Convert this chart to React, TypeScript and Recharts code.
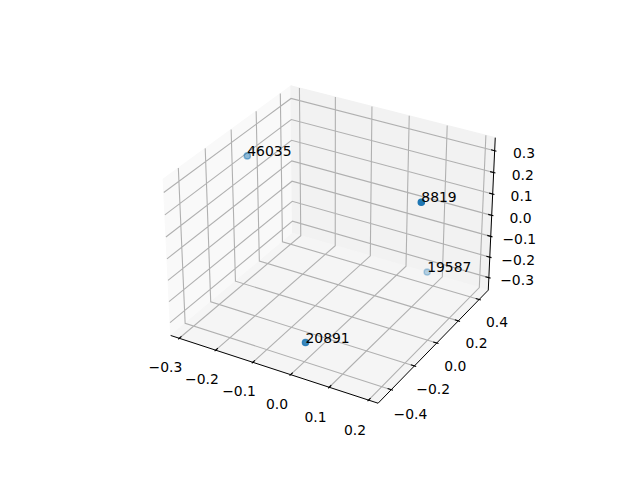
import React from 'react';
import { ScatterChart, Scatter, XAxis, YAxis } from 'recharts';

// the four labelled points (x, y, z)
const pointLabels = ['46035', '8819', '19587', '20891'];
const pointX = [-0.313, 0.213, 0.064, 0.033];
const pointY = [0.09, -0.136, 0.47, -0.49];
const pointZ = [0.204, 0.345, -0.347, -0.203];

// axis ticks
const xTicks = [-0.3, -0.2, -0.1, 0.0, 0.1, 0.2];
const xTickLabels = ['−0.3', '−0.2', '−0.1', '0.0', '0.1', '0.2'];
const yTicks = [-0.4, -0.2, 0.0, 0.2, 0.4];
const yTickLabels = ['−0.4', '−0.2', '0.0', '0.2', '0.4'];
const zTicks = [-0.3, -0.2, -0.1, 0.0, 0.1, 0.2, 0.3];
const zTickLabels = ['−0.3', '−0.2', '−0.1', '0.0', '0.1', '0.2', '0.3'];

type V3 = [number, number, number];

// limits = data range padded by 1/48 on each side
const lim = (v: number[]) => {
  const lo = Math.min(...v);
  const hi = Math.max(...v);
  const d = (hi - lo) / 48;
  return [lo - d, hi + d];
};
const XL = lim(pointX);
const YL = lim(pointY);
const ZL = lim(pointZ);

// default 3d camera: elev 30, azim -60, perspective, box 4:4:3
const RAD = Math.PI / 180;
const ELEV = 30 * RAD;
const AZIM = -60 * RAD;
const DIST = 10;
const boxNorm = Math.hypot(4, 4, 3);
const BOX = [4, 4, 3].map((a) => (a * 1.8294640721620434 * 25) / 24 / boxNorm);
const cross = (a: number[], b: number[]) => [
  a[1] * b[2] - a[2] * b[1],
  a[2] * b[0] - a[0] * b[2],
  a[0] * b[1] - a[1] * b[0],
];
const dot = (a: number[], b: number[]) => a[0] * b[0] + a[1] * b[1] + a[2] * b[2];
const W = [Math.cos(ELEV) * Math.cos(AZIM), Math.cos(ELEV) * Math.sin(AZIM), Math.sin(ELEV)];
const uRaw = cross([0, 0, 1], W);
const uLen = Math.hypot(uRaw[0], uRaw[1], uRaw[2]);
const U = uRaw.map((v) => v / uLen);
const V = cross(W, U);

const project = ([x, y, z]: V3) => {
  const d = [
    ((x - XL[0]) / (XL[1] - XL[0]) - 0.5) * BOX[0],
    ((y - YL[0]) / (YL[1] - YL[0]) - 0.5) * BOX[1],
    ((z - ZL[0]) / (ZL[1] - ZL[0]) - 0.5) * BOX[2],
  ];
  const den = DIST - dot(W, d);
  return { sx: dot(U, d) / den, sy: dot(V, d) / den, depth: -DIST / den };
};

// screen window of the projected plane
const SCALE = 1996;
const CX = 332.4;
const CY = 236.9;
const xDomain = [-CX / SCALE, (640 - CX) / SCALE];
const yDomain = [(CY - 480) / SCALE, CY / SCALE];

const [x0, x1] = XL;
const [y0, y1] = YL;
const [z0, z1] = ZL;
const dX = (x1 - x0) / 12;
const dY = (y1 - y0) / 12;
const dZ = (z1 - z0) / 12;

const panes: { color: string; pts: V3[] }[] = [
  { color: '#f9f9f9', pts: [[x0, y0, z0], [x0, y1, z0], [x0, y1, z1], [x0, y0, z1]] },
  { color: '#f2f2f2', pts: [[x0, y1, z0], [x1, y1, z0], [x1, y1, z1], [x0, y1, z1]] },
  { color: '#f5f5f5', pts: [[x0, y0, z0], [x1, y0, z0], [x1, y1, z0], [x0, y1, z0]] },
];

const gridLines: V3[][] = [
  ...xTicks.map((t): V3[] => [[t, y0, z0], [t, y1, z0], [t, y1, z1]]),
  ...yTicks.map((t): V3[] => [[x0, t, z1], [x0, t, z0], [x1, t, z0]]),
  ...zTicks.map((t): V3[] => [[x1, y1, t], [x0, y1, t], [x0, y0, t]]),
];

const axisLines: V3[][] = [
  [[x0, y0, z0], [x1, y0, z0]],
  [[x1, y0, z0], [x1, y1, z0]],
  [[x1, y1, z0], [x1, y1, z1]],
];

const tickLines: V3[][] = [
  ...xTicks.map((t): V3[] => [[t, y0 - 0.1 * dY, z0], [t, y0 + 0.2 * dY, z0]]),
  ...yTicks.map((t): V3[] => [[x1 + 0.1 * dX, t, z0], [x1 - 0.2 * dX, t, z0]]),
  ...zTicks.map((t): V3[] => [[x1 + 0.1 * dX, y1, t], [x1 - 0.2 * dX, y1, t]]),
];

const tickLabelData = [
  ...xTicks.map((t, i) => ({ ...project([t, y0 - 0.11 * (y1 - y0), z0 - 0.115 * (z1 - z0)]), label: xTickLabels[i] })),
  ...yTicks.map((t, i) => ({ ...project([x1 + 0.09 * (x1 - x0), t, z0 - 0.122 * (z1 - z0)]), label: yTickLabels[i] })),
  ...zTicks.map((t, i) => ({ ...project([x1 + 0.12 * (x1 - x0), y1 + 0.034 * (y1 - y0), t]), label: zTickLabels[i] })),
];

const rawPoints = pointLabels.map((label, i) => ({ ...project([pointX[i], pointY[i], pointZ[i]]), label }));
const dMin = Math.min(...rawPoints.map((p) => p.depth));
const dMax = Math.max(...rawPoints.map((p) => p.depth));
// depth shading: near points opaque, far ones faded
const pointData = rawPoints
  .map((p) => ({ ...p, alpha: 1 - (0.7 * (p.depth - dMin)) / (dMax - dMin) }))
  .sort((a, b) => b.depth - a.depth);

const flatten = (lines: V3[][]) => lines.flatMap((l) => l.map((p) => project(p)));

const pathOf = (n: number, close: boolean, style: React.SVGProps<SVGPathElement>) => (props: any) => {
  const pts: { x: number; y: number }[] = props.points || [];
  let d = '';
  for (let i = 0; i < pts.length; i += n) {
    d += 'M' + pts.slice(i, i + n).map((p) => `${p.x},${p.y}`).join('L') + (close ? 'Z' : '');
  }
  return <path d={d} {...style} />;
};

const noShape = () => <g />;
const FONT = 'DejaVu Sans';

export default function App() {
  return (
    <div style={{ position: 'absolute', left: 0, top: 0, background: '#fff' }}>
      <ScatterChart width={640} height={480} margin={{ top: 0, right: 0, bottom: 0, left: 0 }}>
        <XAxis type="number" dataKey="sx" domain={xDomain} allowDataOverflow hide />
        <YAxis type="number" dataKey="sy" domain={yDomain} allowDataOverflow hide />
        {panes.map((pane, i) => (
          <Scatter
            key={`pane-${i}`}
            data={pane.pts.map((p) => project(p))}
            line={pathOf(4, true, { fill: pane.color, stroke: pane.color, strokeWidth: 1 })}
            lineType="joint"
            shape={noShape}
            isAnimationActive={false}
          />
        ))}
        <Scatter
          data={flatten(gridLines)}
          line={pathOf(3, false, { fill: 'none', stroke: '#b0b0b0', strokeWidth: 1.1 })}
          lineType="joint"
          shape={noShape}
          isAnimationActive={false}
        />
        <Scatter
          data={flatten(axisLines)}
          line={pathOf(2, false, { fill: 'none', stroke: '#000', strokeWidth: 1 })}
          lineType="joint"
          shape={noShape}
          isAnimationActive={false}
        />
        <Scatter
          data={flatten(tickLines)}
          line={pathOf(2, false, { fill: 'none', stroke: '#000', strokeWidth: 1.1 })}
          lineType="joint"
          shape={noShape}
          isAnimationActive={false}
        />
        <Scatter
          data={tickLabelData}
          isAnimationActive={false}
          shape={(p: any) => (
            <text x={p.cx} y={p.cy + 3.8} textAnchor="middle" fontFamily={FONT} fontSize={13.9} fill="#000">
              {p.payload.label}
            </text>
          )}
        />
        <Scatter
          data={pointData}
          isAnimationActive={false}
          shape={(p: any) => (
            <circle
              cx={p.cx}
              cy={p.cy}
              r={3.1}
              fill="#1f77b4"
              fillOpacity={p.payload.alpha}
              stroke="#1f77b4"
              strokeOpacity={p.payload.alpha}
              strokeWidth={1.4}
            />
          )}
        />
        <Scatter
          data={pointData}
          isAnimationActive={false}
          shape={(p: any) => (
            <text x={p.cx} y={p.cy} textAnchor="start" fontFamily={FONT} fontSize={13.9} fill="#000">
              {p.payload.label}
            </text>
          )}
        />
      </ScatterChart>
    </div>
  );
}
